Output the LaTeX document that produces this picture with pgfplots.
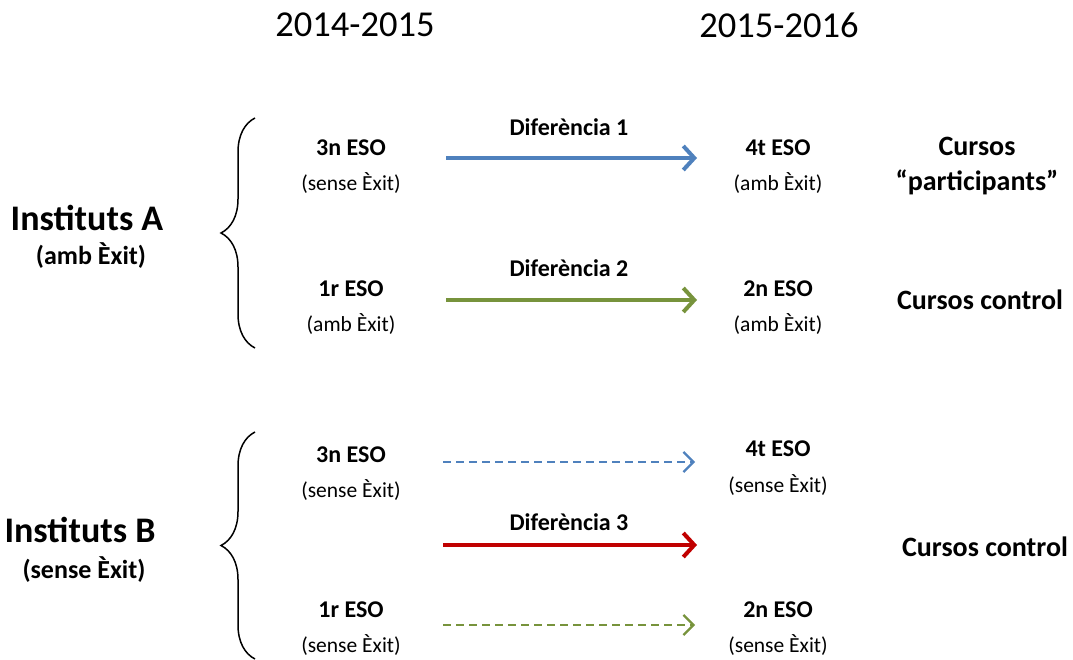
\documentclass[border=0pt]{standalone}
\usepackage{pgfplots}
\pgfplotsset{compat=1.18}
\usepackage{fontspec}
\setmainfont{Carlito}
\usetikzlibrary{arrows.meta,decorations.pathreplacing}
\definecolor{cblue}{HTML}{4F81BD}
\definecolor{cgreen}{HTML}{77933C}
\definecolor{cred}{HTML}{C00000}
\newcommand{\fs}[1]{\fontsize{#1}{#1}\selectfont}
\begin{document}
\begin{tikzpicture}
\begin{axis}[width=1073pt, height=660pt, scale only axis,
  xmin=0, xmax=1073, ymin=0, ymax=660, y dir=reverse,
  hide axis, clip=false]
\path (axis cs:0,0) rectangle (axis cs:1073,660);
% solid arrows
\addplot[cblue, line width=4pt, -{Straight Barb[length=11pt,width=24pt]}] coordinates {(446,158) (697,158)};
\addplot[cgreen, line width=4pt, -{Straight Barb[length=11pt,width=24pt]}] coordinates {(446,300) (697,300)};
\addplot[cred, line width=4pt, -{Straight Barb[length=11pt,width=24pt]}] coordinates {(443,545) (697,545)};
% dashed arrows
\addplot[cblue, line width=2.3pt, dash pattern=on 8pt off 5pt, -{Straight Barb[length=10pt,width=20pt]}] coordinates {(443,462) (695,462)};
\addplot[cgreen, line width=2.3pt, dash pattern=on 8pt off 5pt, -{Straight Barb[length=10pt,width=20pt]}] coordinates {(443,625) (695,625)};
% braces
\draw[line width=1.5pt, decorate, decoration={brace, amplitude=34pt}] (axis cs:255,348) -- (axis cs:255,118);
\draw[line width=1.5pt, decorate, decoration={brace, amplitude=34pt}] (axis cs:255,659) -- (axis cs:255,432);
% headers
\node at (axis cs:355,25) {\fs{36.5}2014-2015};
\node at (axis cs:779,25) {\fs{36.5}2015-2016};
% group labels
\node at (axis cs:87,218) {\fs{36}\bfseries Instituts A};
\node at (axis cs:91,256) {\fs{26}\bfseries (amb Èxit)};
\node at (axis cs:80,530) {\fs{36}\bfseries Instituts B};
\node at (axis cs:84,570) {\fs{26}\bfseries (sense Èxit)};
% left column
\node at (axis cs:351,148) {\fs{24}\bfseries 3n ESO};
\node at (axis cs:351,183) {\fs{21.5}(sense Èxit)};
\node at (axis cs:351,289) {\fs{24}\bfseries 1r ESO};
\node at (axis cs:351,324) {\fs{21.5}(amb Èxit)};
\node at (axis cs:351,455) {\fs{24}\bfseries 3n ESO};
\node at (axis cs:351,490) {\fs{21.5}(sense Èxit)};
\node at (axis cs:351,610) {\fs{24}\bfseries 1r ESO};
\node at (axis cs:351,645) {\fs{21.5}(sense Èxit)};
% right column
\node at (axis cs:778,148) {\fs{24}\bfseries 4t ESO};
\node at (axis cs:778,183) {\fs{21.5}(amb Èxit)};
\node at (axis cs:778,289) {\fs{24}\bfseries 2n ESO};
\node at (axis cs:778,324) {\fs{21.5}(amb Èxit)};
\node at (axis cs:778,449) {\fs{24}\bfseries 4t ESO};
\node at (axis cs:778,485) {\fs{21.5}(sense Èxit)};
\node at (axis cs:778,610) {\fs{24}\bfseries 2n ESO};
\node at (axis cs:778,645) {\fs{21.5}(sense Èxit)};
% differences
\node at (axis cs:569,127) {\fs{24}\bfseries Diferència 1};
\node at (axis cs:569,268) {\fs{24}\bfseries Diferència 2};
\node at (axis cs:569,522) {\fs{24}\bfseries Diferència 3};
% course labels
\node at (axis cs:977,146) {\fs{28}\bfseries Cursos};
\node at (axis cs:977,182) {\fs{28}\bfseries “participants”};
\node at (axis cs:980,300) {\fs{28}\bfseries Cursos control};
\node at (axis cs:985,547) {\fs{28}\bfseries Cursos control};
\end{axis}
\end{tikzpicture}
\end{document}
